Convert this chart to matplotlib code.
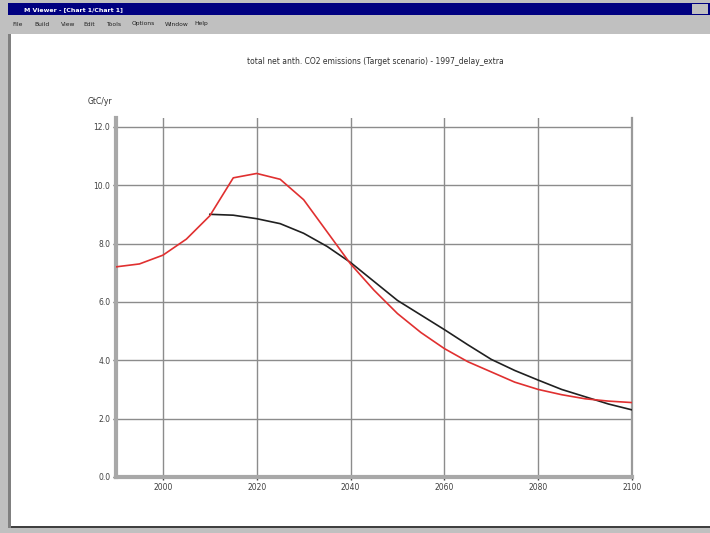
import matplotlib
matplotlib.use("Agg")
import matplotlib.pyplot as plt
from matplotlib.patches import Rectangle

years_red = [1990, 1995, 2000, 2005, 2010, 2015, 2020, 2025, 2030, 2035, 2040, 2045,
             2050, 2055, 2060, 2065, 2070, 2075, 2080, 2085, 2090, 2095, 2100]
red_values = [7.2, 7.3, 7.6, 8.15, 8.95, 10.25, 10.4, 10.2, 9.5, 8.4, 7.3, 6.4,
              5.6, 4.95, 4.4, 3.95, 3.6, 3.25, 3.0, 2.82, 2.68, 2.6, 2.55]
years_black = [2010, 2015, 2020, 2025, 2030, 2035, 2040, 2045, 2050, 2055, 2060,
               2065, 2070, 2075, 2080, 2085, 2090, 2095, 2100]
black_values = [9.0, 8.97, 8.85, 8.68, 8.35, 7.9, 7.35, 6.7, 6.05, 5.55, 5.05,
                4.53, 4.03, 3.65, 3.32, 3.0, 2.75, 2.5, 2.3]
x_ticks = [2000, 2020, 2040, 2060, 2080, 2100]
y_ticks = [0, 2, 4, 6, 8, 10, 12]
y_labels = ["0.0", "2.0", "4.0", "6.0", "8.0", "10.0", "12.0"]
title = "total net anth. CO2 emissions (Target scenario) - 1997_delay_extra"
unit = "GtC/yr"
window_title = "M Viewer - [Chart 1/Chart 1]"
menu_items = ["File", "Build", "View", "Edit", "Tools", "Options", "Window", "Help"]

W, H = 710, 533
fig = plt.figure(figsize=(W / 100, H / 100), dpi=100)
fig.patch.set_facecolor("#c0c0c0")

def px(x, y, w, h, **kw):
    fig.patches.append(Rectangle((x / W, 1 - (y + h) / H), w / W, h / H,
                                 transform=fig.transFigure, zorder=-10, **kw))

# window chrome
px(8, 3, W - 8, 12, facecolor="#000080", edgecolor="none")
px(692, 4, 16, 10, facecolor="#c0c0c0", edgecolor="none")
fig.text(24 / W, 1 - 9.5 / H, window_title, color="white", fontsize=4.5,
         fontweight="bold", va="center", ha="left")
xm = 12
for m in menu_items:
    fig.text(xm / W, 1 - 24 / H, m, fontsize=4.3, va="center", ha="left", color="#202020")
    xm += len(m) * 3.4 + 9
px(10, 34, W - 10, 492, facecolor="white", edgecolor="none")
px(10, 526, W - 10, 2, facecolor="#404040", edgecolor="none")
px(8, 34, 3, 494, facecolor="#808080", edgecolor="none")

ax = fig.add_axes([116 / W, 56 / H, (632 - 116) / W, (477 - 118) / H])
ax.set_zorder(5)
ax.patch.set_alpha(0)
ax.plot(years_black, black_values, color="#202020", lw=1.2, zorder=3)
ax.plot(years_red, red_values, color="#e03030", lw=1.2, zorder=4)

ax.set_xlim(1990, 2100)
ax.set_ylim(0, 12.3)
ax.set_xticks(x_ticks)
ax.set_xticklabels([str(t) for t in x_ticks], fontsize=5.5, color="#404040")
ax.set_yticks(y_ticks)
ax.set_yticklabels(y_labels, fontsize=5.5, color="#404040")
ax.grid(True, color="#8c8c8c", lw=1.0)
ax.set_axisbelow(True)
ax.tick_params(length=2, width=1, color="#404040", pad=2)
ax.spines["top"].set_visible(False)
ax.spines["right"].set_color("#9a9a9a")
ax.spines["right"].set_linewidth(1.6)
for s in ["left", "bottom"]:
    ax.spines[s].set_color("#a8a8a8")
    ax.spines[s].set_linewidth(3)

fig.text(375 / W, 1 - 62 / H, title, fontsize=5.5, ha="center", va="center", color="#303030")
fig.text(100 / W, 1 - 101 / H, unit, fontsize=5.5, ha="center", va="center", color="#303030")

fig.savefig("out.png", dpi=100, facecolor=fig.get_facecolor())
